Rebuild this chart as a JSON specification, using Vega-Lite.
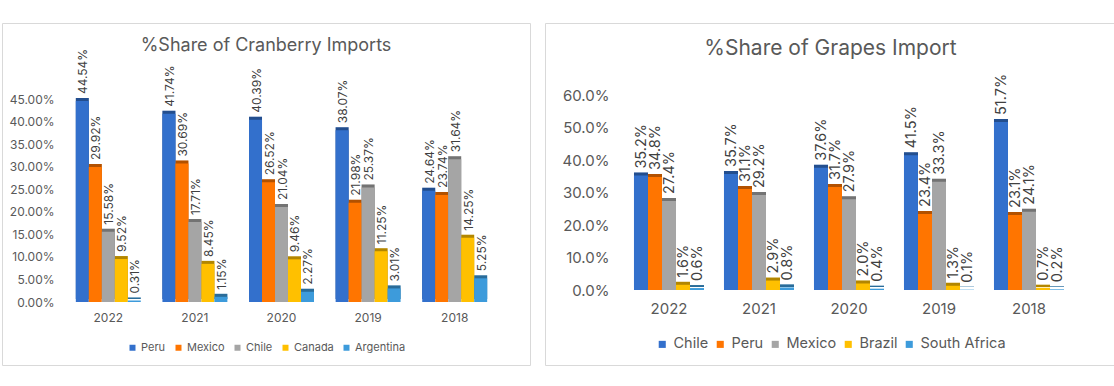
{
  "$schema": "https://vega.github.io/schema/vega-lite/v6.json",
  "autosize": {"type": "pad"},
  "padding": {"left": 1, "top": 22, "right": 0, "bottom": 0},
  "background": "white",
  "spacing": 13,
  "config": {
    "font": "Inter",
    "view": {"stroke": "#D9D9D9", "strokeWidth": 1},
    "axis": {"labelColor": "#595959", "labelFont": "Inter", "grid": false, "domain": false, "ticks": false, "title": null},
    "legend": {"labelColor": "#595959", "labelFont": "Inter", "padding": 0},
    "title": {"color": "#595959", "fontWeight": "normal", "font": "Inter"}
  },
  "resolve": {
    "scale": {"color": "independent", "x": "independent", "y": "independent", "xOffset": "independent"},
    "legend": {"color": "independent"}
  },
  "hconcat": [
    {
      "width": 528,
      "height": 342,
      "title": {"text": "%Share of Cranberry Imports", "offset": -32, "fontSize": 18, "anchor": "middle"},
      "data": {
        "values": [
          {"year": "2022", "country": "Peru", "share": 0.4454},
          {"year": "2022", "country": "Mexico", "share": 0.2992},
          {"year": "2022", "country": "Chile", "share": 0.1558},
          {"year": "2022", "country": "Canada", "share": 0.0952},
          {"year": "2022", "country": "Argentina", "share": 0.0031},
          {"year": "2021", "country": "Peru", "share": 0.4174},
          {"year": "2021", "country": "Mexico", "share": 0.3069},
          {"year": "2021", "country": "Chile", "share": 0.1771},
          {"year": "2021", "country": "Canada", "share": 0.0845},
          {"year": "2021", "country": "Argentina", "share": 0.0115},
          {"year": "2020", "country": "Peru", "share": 0.4039},
          {"year": "2020", "country": "Mexico", "share": 0.2652},
          {"year": "2020", "country": "Chile", "share": 0.2104},
          {"year": "2020", "country": "Canada", "share": 0.0946},
          {"year": "2020", "country": "Argentina", "share": 0.0227},
          {"year": "2019", "country": "Peru", "share": 0.3807},
          {"year": "2019", "country": "Mexico", "share": 0.2198},
          {"year": "2019", "country": "Chile", "share": 0.2537},
          {"year": "2019", "country": "Canada", "share": 0.1125},
          {"year": "2019", "country": "Argentina", "share": 0.0301},
          {"year": "2018", "country": "Peru", "share": 0.2464},
          {"year": "2018", "country": "Mexico", "share": 0.2374},
          {"year": "2018", "country": "Chile", "share": 0.3164},
          {"year": "2018", "country": "Canada", "share": 0.1425},
          {"year": "2018", "country": "Argentina", "share": 0.0525}
        ]
      },
      "encoding": {
        "x": {
          "field": "year", "type": "nominal",
          "sort": ["2022", "2021", "2020", "2019", "2018"],
          "scale": {"range": [63, 496], "paddingInner": 0.25, "paddingOuter": 0.125},
          "axis": {"orient": "bottom", "offset": -63, "labelPadding": 10, "labelFontSize": 12, "labelAngle": 0}
        },
        "xOffset": {"field": "country", "type": "nominal", "sort": ["Peru", "Mexico", "Chile", "Canada", "Argentina"]},
        "y": {
          "field": "share", "type": "quantitative",
          "scale": {"domain": [0, 0.45], "range": [279, 76], "nice": false},
          "axis": {"format": ".2%", "values": [0, 0.05, 0.1, 0.15, 0.2, 0.25, 0.3, 0.35, 0.4, 0.45], "offset": -56, "labelPadding": 4, "labelFontSize": 12}
        },
        "color": {
          "field": "country", "type": "nominal",
          "scale": {"domain": ["Peru", "Mexico", "Chile", "Canada", "Argentina"], "range": ["#3370CC", "#FF7500", "#A5A5A5", "#FFC000", "#3D9BDB"]},
          "legend": {"orient": "none", "legendX": 125, "legendY": 319, "direction": "horizontal", "title": null, "symbolType": "square", "symbolSize": 36, "labelFontSize": 11, "columnPadding": 7, "labelOffset": 3}
        }
      },
      "layer": [
        {"mark": {"type": "bar", "xOffset": 3, "yOffset": -3}},
        {"mark": {"type": "bar", "xOffset": 3, "yOffset": -3, "opacity": 0.3}, "encoding": {"color": {"value": "black"}}},
        {"mark": {"type": "bar"}},
        {
          "mark": {"type": "text", "angle": 270, "align": "left", "baseline": "middle", "dx": 7, "dy": 1, "fontSize": 12},
          "encoding": {"text": {"field": "share", "type": "quantitative", "format": ".2%"}, "color": {"value": "#404040"}}
        }
      ]
    },
    {
      "width": 571,
      "height": 342,
      "title": {"text": "%Share of Grapes Import", "offset": -36, "fontSize": 21, "anchor": "middle"},
      "data": {
        "values": [
          {"year": "2022", "country": "Chile", "share": 0.352},
          {"year": "2022", "country": "Peru", "share": 0.348},
          {"year": "2022", "country": "Mexico", "share": 0.274},
          {"year": "2022", "country": "Brazil", "share": 0.016},
          {"year": "2022", "country": "South Africa", "share": 0.006},
          {"year": "2021", "country": "Chile", "share": 0.357},
          {"year": "2021", "country": "Peru", "share": 0.311},
          {"year": "2021", "country": "Mexico", "share": 0.292},
          {"year": "2021", "country": "Brazil", "share": 0.029},
          {"year": "2021", "country": "South Africa", "share": 0.008},
          {"year": "2020", "country": "Chile", "share": 0.376},
          {"year": "2020", "country": "Peru", "share": 0.317},
          {"year": "2020", "country": "Mexico", "share": 0.279},
          {"year": "2020", "country": "Brazil", "share": 0.020},
          {"year": "2020", "country": "South Africa", "share": 0.004},
          {"year": "2019", "country": "Chile", "share": 0.415},
          {"year": "2019", "country": "Peru", "share": 0.234},
          {"year": "2019", "country": "Mexico", "share": 0.333},
          {"year": "2019", "country": "Brazil", "share": 0.013},
          {"year": "2019", "country": "South Africa", "share": 0.001},
          {"year": "2018", "country": "Chile", "share": 0.517},
          {"year": "2018", "country": "Peru", "share": 0.231},
          {"year": "2018", "country": "Mexico", "share": 0.241},
          {"year": "2018", "country": "Brazil", "share": 0.007},
          {"year": "2018", "country": "South Africa", "share": 0.002}
        ]
      },
      "encoding": {
        "x": {
          "field": "year", "type": "nominal",
          "sort": ["2022", "2021", "2020", "2019", "2018"],
          "scale": {"range": [79, 529], "paddingInner": 0.222, "paddingOuter": 0.111},
          "axis": {"orient": "bottom", "offset": -75, "labelPadding": 11, "labelFontSize": 15, "labelAngle": 0}
        },
        "xOffset": {"field": "country", "type": "nominal", "sort": ["Chile", "Peru", "Mexico", "Brazil", "South Africa"]},
        "y": {
          "field": "share", "type": "quantitative",
          "scale": {"domain": [0, 0.6], "range": [267, 72], "nice": false},
          "axis": {"format": ".1%", "values": [0, 0.1, 0.2, 0.3, 0.4, 0.5, 0.6], "offset": -68, "labelPadding": 4, "labelFontSize": 15}
        },
        "color": {
          "field": "country", "type": "nominal",
          "scale": {"domain": ["Chile", "Peru", "Mexico", "Brazil", "South Africa"], "range": ["#3370CC", "#FF7500", "#A5A5A5", "#FFC000", "#3D9BDB"]},
          "legend": {"orient": "none", "legendX": 110, "legendY": 314, "direction": "horizontal", "title": null, "symbolType": "square", "symbolSize": 50, "labelFontSize": 14.5, "columnPadding": 4, "labelOffset": 4}
        }
      },
      "layer": [
        {"mark": {"type": "bar", "xOffset": 3, "yOffset": -3}},
        {"mark": {"type": "bar", "xOffset": 3, "yOffset": -3, "opacity": 0.3}, "encoding": {"color": {"value": "black"}}},
        {"mark": {"type": "bar"}},
        {
          "mark": {"type": "text", "angle": 270, "align": "left", "baseline": "middle", "dx": 7, "dy": 1, "fontSize": 14.5},
          "encoding": {"text": {"field": "share", "type": "quantitative", "format": ".1%"}, "color": {"value": "#404040"}}
        }
      ]
    }
  ]
}
